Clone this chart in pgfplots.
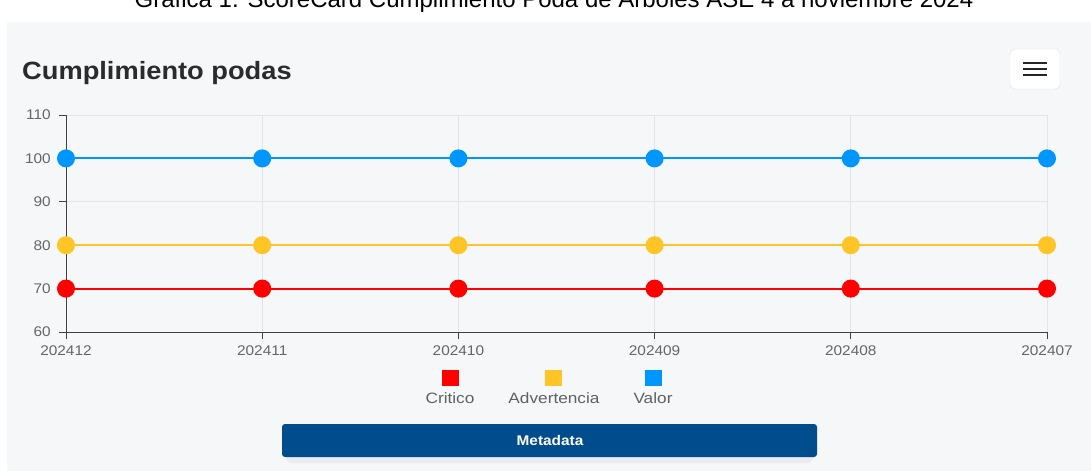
\documentclass[border=0pt]{standalone}
\usepackage{pgfplots}
\pgfplotsset{compat=1.18}
\usepackage{fontspec}
\setmainfont{Liberation Sans}
\definecolor{bg}{HTML}{F6F7F9}
\definecolor{crit}{HTML}{FF0000}
\definecolor{warn}{HTML}{FFC425}
\definecolor{val}{HTML}{0096FF}
\definecolor{btn}{HTML}{004C8C}
\definecolor{titlecol}{HTML}{2B2B2B}
\definecolor{ticklab}{HTML}{666666}
\definecolor{gridc}{HTML}{E2E4E8}
\begin{document}
\begin{tikzpicture}[x=1pt,y=1pt]
\clip (0,0) rectangle (1091,471);
\fill[white] (0,0) rectangle (1091,471);
\fill[bg] (7,0) rectangle (1091,449);
\node[anchor=base, font=\fontsize{24}{28}\selectfont, inner sep=0pt] at (554,463) {Gráfica 1. ScoreCard Cumplimiento Poda de Árboles ASE 4 a noviembre 2024};
\node[anchor=base west, font=\fontsize{25}{29}\selectfont\bfseries, text=titlecol, inner sep=0pt, xscale=1.09] at (22,391) {Cumplimiento podas};
\draw[rounded corners=5pt, draw=black!12, fill=white] (1010,382) rectangle (1060,422);
\foreach \yy in {408,402,396} \draw[line width=2.6pt, black!85] (1023,\yy) -- (1047,\yy);
\begin{axis}[
  at={(66pt,139pt)}, anchor=south west,
  scale only axis, width=981pt, height=217pt,
  xmin=0, xmax=5, ymin=60, ymax=110,
  xtick={0,1,2,3,4,5},
  xticklabels={202412,202411,202410,202409,202408,202407},
  ytick={60,70,80,90,100,110},
  /pgf/number format/assume math mode=true,
  axis x line=bottom, axis y line=left,
  axis line style={-, black!75, line width=0.9pt},
  tick align=outside, major tick length=7pt,
  tick style={black!75, line width=0.9pt},
  grid=major, grid style={gridc, line width=0.9pt},
  ticklabel style={font=\fontsize{14}{16}\selectfont, text=ticklab, xscale=1.1},
  xticklabel style={yshift=-3pt},
  yticklabel style={xshift=-4pt},
  clip=false,
]
\addplot[crit, line width=2pt, mark=*, mark size=8pt, mark options={fill=crit, draw=crit}] coordinates {(0,70)(1,70)(2,70)(3,70)(4,70)(5,70)};
\addplot[warn, line width=2pt, mark=*, mark size=8pt, mark options={fill=warn, draw=warn}] coordinates {(0,80)(1,80)(2,80)(3,80)(4,80)(5,80)};
\addplot[val, line width=2pt, mark=*, mark size=8pt, mark options={fill=val, draw=val}] coordinates {(0,100)(1,100)(2,100)(3,100)(4,100)(5,100)};
\end{axis}
\fill[crit] (441.5,85) rectangle (458.5,101);
\fill[warn] (544.5,85) rectangle (561.5,101);
\fill[val] (644.5,85) rectangle (661.5,101);
\node[anchor=base, font=\fontsize{15}{17}\selectfont, text=black!62, inner sep=0pt, xscale=1.15] at (450,68) {Critico};
\node[anchor=base, font=\fontsize{15}{17}\selectfont, text=black!62, inner sep=0pt, xscale=1.15] at (554,68) {Advertencia};
\node[anchor=base, font=\fontsize{15}{17}\selectfont, text=black!62, inner sep=0pt, xscale=1.15] at (653,68) {Valor};
\fill[blue!25!black!8, rounded corners=6pt] (286,8) rectangle (813,44);
\fill[btn, rounded corners=3pt] (282,14) rectangle (817,47);
\node[font=\fontsize{14}{16}\selectfont\bfseries, text=white, xscale=1.1] at (550,31) {Metadata};
\end{tikzpicture}
\end{document}
